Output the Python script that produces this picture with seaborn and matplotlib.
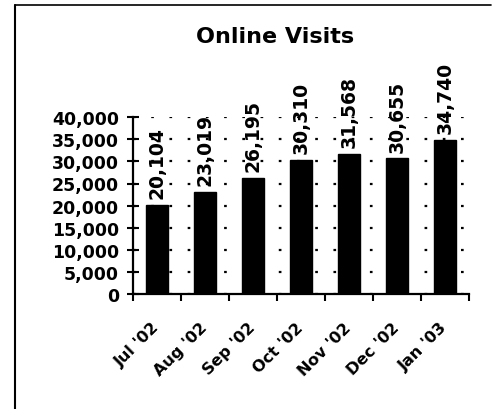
"""Online visits bar chart, monthly totals Jul '02 - Jan '03."""

import matplotlib
matplotlib.use("Agg")
import matplotlib.pyplot as plt
from matplotlib.lines import Line2D
from matplotlib.ticker import FuncFormatter, MultipleLocator, FixedLocator
import seaborn as sns

months = ["Jul '02", "Aug '02", "Sep '02", "Oct '02", "Nov '02", "Dec '02", "Jan '03"]
visits = [20104, 23019, 26195, 30310, 31568, 30655, 34740]

sns.set_style("ticks")
plt.rcParams["font.family"] = ["DejaVu Sans"]
plt.rcParams["font.weight"] = "bold"
plt.rcParams["text.color"] = "black"
plt.rcParams["xtick.color"] = "black"
plt.rcParams["ytick.color"] = "black"
plt.rcParams["xtick.labelcolor"] = "black"
plt.rcParams["ytick.labelcolor"] = "black"

fig = plt.figure(figsize=(4.98, 4.10), dpi=100)
ax = fig.add_axes([0.267, 0.280, 0.675, 0.432])

sns.barplot(x=months, y=visits, color="black", width=0.45, saturation=1,
            edgecolor="black", ax=ax, zorder=3)

ax.set_ylim(0, 40000)
ax.set_xlim(-0.5, len(months) - 0.5)
ax.yaxis.set_major_locator(MultipleLocator(5000))
ax.yaxis.set_major_formatter(FuncFormatter(lambda v, p: f"{int(v):,}"))
ax.grid(axis="y", color="black", linestyle=(0, (1.2, 7)), linewidth=1.6, zorder=0)
ax.set_axisbelow(True)

# tick marks between categories, labels at centres
ax.xaxis.set_minor_locator(FixedLocator([i - 0.5 for i in range(len(months) + 1)]))
ax.tick_params(axis="x", which="major", length=0, pad=22)
ax.tick_params(axis="x", which="minor", length=5, width=1.5, direction="out", color="black")
ax.tick_params(axis="y", length=8, width=1.5, direction="inout", color="black", pad=6)
for lab in ax.get_xticklabels():
    lab.set_rotation(45)
    lab.set_ha("right")
    lab.set_va("center")
    lab.set_rotation_mode("anchor")
    lab.set_fontsize(11.5)
    lab.set_fontweight("bold")
for lab in ax.get_yticklabels():
    lab.set_fontsize(12.5)
    lab.set_fontweight("bold")

for side in ["top", "right"]:
    ax.spines[side].set_visible(False)
for side in ["left", "bottom"]:
    ax.spines[side].set_color("black")
    ax.spines[side].set_linewidth(1.6)

for cont in ax.containers:
    ax.bar_label(cont, labels=[f"{v:,}" for v in visits], rotation=90,
                 padding=5, fontsize=13.5, fontweight="bold", color="black")

ax.set_xlabel("")
ax.set_ylabel("")
fig.text(0.552, 0.91, "Online Visits", ha="center", va="center",
         fontsize=16, fontweight="bold", color="black")

# scanned frame: left edge and top edge
fig.add_artist(Line2D([0.031, 0.031], [0.0, 0.985], color="black", linewidth=1.5))
fig.add_artist(Line2D([0.031, 0.985], [0.985, 0.985], color="black", linewidth=1.2))

fig.savefig("out.png", dpi=100)
